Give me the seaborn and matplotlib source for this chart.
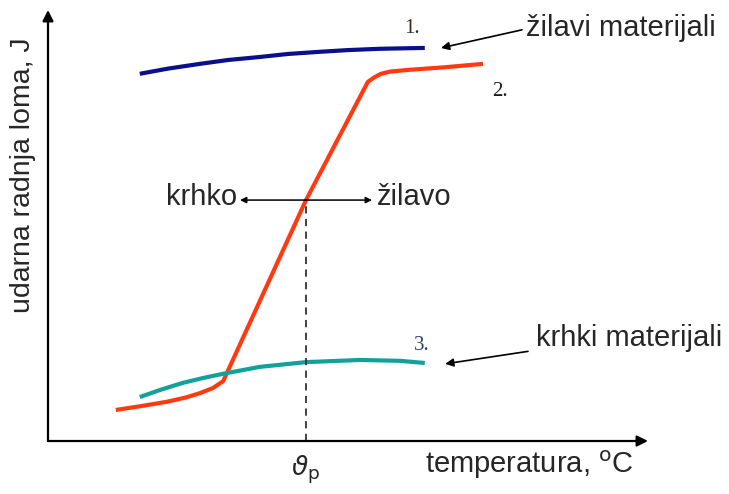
import numpy as np
import pandas as pd
import matplotlib
matplotlib.use('Agg')
import matplotlib.pyplot as plt
import seaborn as sns

# temperature (0-100 scale) vs impact energy (0-100 scale)
t_zilavi = [15.3, 20.0, 25.3, 30.0, 35.3, 40.0, 45.3, 50.0, 55.3, 59.0, 62.8]
e_zilavi = [85.2, 86.4, 87.5, 88.4, 89.1, 89.8, 90.3, 90.7, 91.0, 91.1, 91.2]

t_prelaz = [11.3, 15.5, 19.8, 23.0, 25.3, 27.5, 29.2, 43.0, 53.3, 54.3, 55.5, 57.0, 60.0, 66.0, 72.5]
e_prelaz = [7.2, 8.1, 9.1, 10.1, 11.1, 12.3, 13.9, 55.9, 83.3, 84.3, 85.2, 85.7, 86.1, 86.7, 87.5]

t_krhki = [15.3, 18.8, 22.5, 25.8, 29.2, 35.3, 43.0, 52.0, 58.7, 62.8]
e_krhki = [10.2, 11.9, 13.5, 14.6, 15.6, 17.2, 18.3, 18.8, 18.6, 18.1]

t_p = 43.0
e_p = 55.9

df = pd.concat([
    pd.DataFrame({'t': t_zilavi, 'e': e_zilavi, 'krivulja': '1'}),
    pd.DataFrame({'t': t_prelaz, 'e': e_prelaz, 'krivulja': '2'}),
    pd.DataFrame({'t': t_krhki, 'e': e_krhki, 'krivulja': '3'}),
])

sns.set_style('white')
plt.rcParams['font.family'] = ['Liberation Sans', 'DejaVu Sans']

fig = plt.figure(figsize=(7.29, 4.94), dpi=100)
ax = fig.add_axes([48/729, 53/494, 600/729, 431/494])
ax.set_xlim(0, 100)
ax.set_ylim(0, 100)

sns.lineplot(data=df, x='t', y='e', hue='krivulja', sort=False,
             palette={'1': '#0a0f8c', '2': '#ff3a10', '3': '#12a09a'},
             linewidth=3.0, legend=False, ax=ax)
for ln in ax.lines:
    ln.set_solid_joinstyle('round')
    ln.set_solid_capstyle('butt')

for s in ax.spines.values():
    s.set_visible(False)
ax.set_xticks([])
ax.set_yticks([])
ax.set_xlabel('')
ax.set_ylabel('')

# axes with arrows
ax.annotate('', xy=(100, 0), xytext=(0, 0), annotation_clip=False,
            arrowprops=dict(arrowstyle='-|>', color='black', lw=1.6, mutation_scale=16,
                            shrinkA=0, shrinkB=0))
ax.annotate('', xy=(0, 100), xytext=(0, 0), annotation_clip=False,
            arrowprops=dict(arrowstyle='-|>', color='black', lw=1.6, mutation_scale=16,
                            shrinkA=0, shrinkB=0))

# transition temperature
ax.plot([t_p, t_p], [0, e_p], color='#333333', lw=1.3, ls=(0, (4, 3)))
ax.annotate('', xy=(32, e_p), xytext=(t_p, e_p),
            arrowprops=dict(arrowstyle='-|>', color='black', lw=1.1, mutation_scale=9,
                            shrinkA=0, shrinkB=0))
ax.annotate('', xy=(54, e_p), xytext=(t_p, e_p),
            arrowprops=dict(arrowstyle='-|>', color='black', lw=1.1, mutation_scale=9,
                            shrinkA=0, shrinkB=0))
ax.text(31.6, e_p + 0.8, 'krhko', ha='right', va='center', fontsize=21)
ax.text(54.8, e_p + 0.8, 'žilavo', ha='left', va='center', fontsize=21)

# curve numbers
ax.text(59.4, 94.6, '1.', family='Liberation Serif', fontsize=15, color='#3a2a20')
ax.text(74.0, 80.0, '2.', family='Liberation Serif', fontsize=15, color='#1a1a1a')
ax.text(61.0, 21.0, '3.', family='Liberation Serif', fontsize=15, color='#2a3d7a')

# material labels with arrows
ax.text(79.6, 95.8, 'žilavi materijali', ha='left', va='center', fontsize=21)
ax.annotate('', xy=(65.5, 91.2), xytext=(79.0, 95.4),
            arrowprops=dict(arrowstyle='-|>', color='black', lw=1.2, mutation_scale=12,
                            shrinkA=0, shrinkB=0))
ax.text(81.4, 24.0, 'krhki materijali', ha='left', va='center', fontsize=21)
ax.annotate('', xy=(66.2, 17.9), xytext=(80.0, 20.8),
            arrowprops=dict(arrowstyle='-|>', color='black', lw=1.2, mutation_scale=12,
                            shrinkA=0, shrinkB=0))

# axis labels
ax.text(62.8, -5.6, 'temperatura, $^{\\mathrm{o}}$C', ha='left', va='center', fontsize=21)
ax.text(t_p, -6.8, r'$\vartheta_\mathrm{p}$', ha='center', va='center', fontsize=19)
ax.text(-4.1, 61.7, 'udarna radnja loma, J', rotation=90, ha='center', va='center',
        fontsize=20.5)

fig.savefig('out.png', dpi=100)
